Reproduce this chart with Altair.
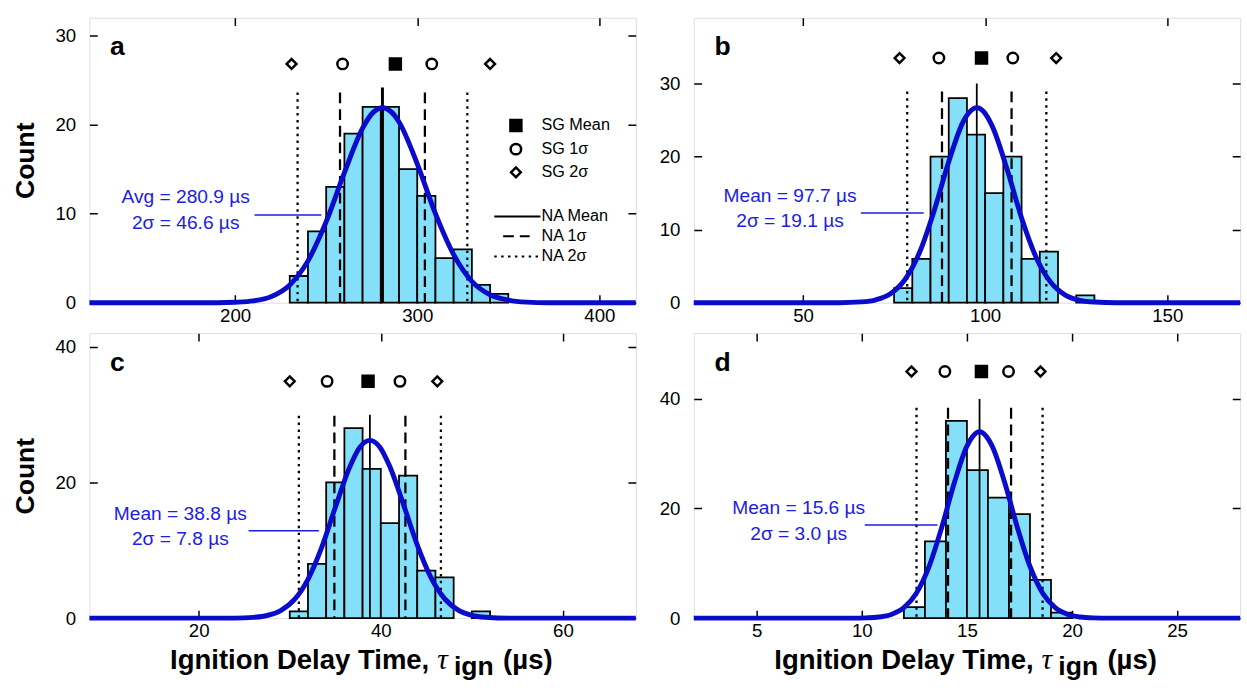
import altair as alt
import pandas as pd

FONT = "Liberation Sans, Arial, Helvetica, sans-serif"
SERIF = "Liberation Serif, Times New Roman, serif"
BAR_FILL = "#84e0f8"
CURVE = "#0b0bcc"
BLUE_TXT = "#1c1ce6"

sg_kinds = ["SG 2σ", "SG 1σ", "SG Mean", "SG 1σ", "SG 2σ"]
na_kinds = ["NA 2σ", "NA 1σ", "NA Mean", "NA 1σ", "NA 2σ"]
sg_legend_labels = ["SG Mean", "SG 1σ", "SG 2σ"]
na_legend_labels = ["NA Mean", "NA 1σ", "NA 2σ"]

# ---------------- panel a ----------------
a_bin_start = [230, 240, 250, 260, 270, 280, 290, 300, 310, 320, 330, 340]
a_counts = [3, 8, 13, 19, 22, 22, 15, 12, 5, 6, 2, 1]
a_bin_width = 10
a_curve_x = [120, 190, 200, 210, 220, 230, 240, 250, 260, 270, 275.9, 280.9, 285.9, 290, 300, 310, 320, 330, 340, 350, 360, 372, 420]
a_curve_y = [0, 0, 0.05, 0.2, 0.7, 2.0, 4.7, 9.1, 14.6, 19.6, 21.4, 21.9, 21.4, 20.3, 15.6, 10.0, 5.4, 2.4, 0.9, 0.3, 0.07, 0, 0]
a_sg_x = [231, 259, 288, 308, 340]
a_na_x = [234.3, 257.6, 280.9, 304.2, 327.5]
a_text = ["Avg = 280.9 µs", "2σ = 46.6 µs"]

# ---------------- panel b ----------------
b_bin_start = [75, 80, 85, 90, 95, 100, 105, 110, 115, 120, 125]
b_counts = [2, 6, 20, 28, 23, 15, 20, 6, 7, 0, 1]
b_bin_width = 5
b_curve_x = [20, 60, 66, 70, 74, 78, 82, 86, 90, 94, 95.9, 97.7, 99.5, 102, 106, 110, 114, 118, 122, 126, 130, 136, 170]
b_curve_y = [0, 0, 0.11, 0.4, 1.23, 3.18, 6.9, 12.6, 19.3, 24.8, 26.2, 26.7, 26.2, 24.1, 18.3, 11.6, 6.2, 2.8, 1.05, 0.33, 0.09, 0, 0]
b_sg_x = [76.5, 87.3, 99.0, 107.6, 119.5]
b_na_x = [78.6, 88.15, 97.7, 107.25, 116.8]
b_text = ["Mean = 97.7 µs", "2σ = 19.1 µs"]

# ---------------- panel c ----------------
c_bin_start = [30, 32, 34, 36, 38, 40, 42, 44, 46, 48, 50]
c_counts = [1, 8, 20, 28, 22, 14, 21, 7, 6, 0, 1]
c_bin_width = 2
c_curve_x = [8, 24, 26, 27.5, 29, 30.5, 32, 33.5, 35, 36.5, 37.7, 38.8, 39.9, 41, 42.5, 44, 45.5, 47, 48.5, 50, 51.5, 54, 68]
c_curve_y = [0, 0, 0.12, 0.39, 1.12, 2.72, 5.73, 10.4, 16.3, 22.0, 25.2, 26.2, 25.2, 22.3, 16.7, 10.8, 6.0, 2.87, 1.19, 0.42, 0.13, 0, 0]
c_sg_x = [30.0, 34.1, 38.6, 42.1, 46.2]
c_na_x = [31.0, 34.9, 38.8, 42.7, 46.6]
c_text = ["Mean = 38.8 µs", "2σ = 7.8 µs"]

# ---------------- panel d ----------------
d_bin_start = [12, 13, 14, 15, 16, 17, 18, 19]
d_counts = [2, 14, 36, 27, 22, 19, 7, 1]
d_bin_width = 1
d_curve_x = [2, 9.6, 10.2, 10.8, 11.4, 12.0, 12.6, 13.2, 13.8, 14.4, 15.0, 15.6, 16.2, 16.8, 17.4, 18.0, 18.6, 19.2, 19.8, 20.4, 21.0, 21.8, 28]
d_curve_y = [0, 0, 0.05, 0.2, 0.67, 1.91, 4.6, 9.45, 16.55, 24.7, 31.4, 34.0, 31.4, 24.7, 16.55, 9.45, 4.6, 1.91, 0.67, 0.2, 0.05, 0, 0]
d_sg_x = [12.36, 13.95, 15.69, 16.98, 18.50]
d_na_x = [12.6, 14.1, 15.6, 17.1, 18.6]
d_text = ["Mean = 15.6 µs", "2σ = 3.0 µs"]

HGT = 290

SHAPE_SCALE = alt.Scale(domain=sg_legend_labels, range=["square", "circle", "diamond"])
FILL_SCALE = alt.Scale(domain=sg_legend_labels, range=["black", "white", "white"])
SIZE_SCALE = alt.Scale(domain=sg_legend_labels, range=[125, 100, 175])
DASH_SCALE = alt.Scale(domain=na_legend_labels, range=[[1, 0], [11, 6], [2.5, 4.5]])
MARK_STYLE = dict(filled=False, color="black", strokeWidth=2.5, opacity=1, fillOpacity=1)


def one():
    return pd.DataFrame({"k": [0]})


def txt(s, x, y, size, color="black", weight="normal", style="normal", align="left",
        baseline="alphabetic", font=FONT):
    return alt.Chart(pd.DataFrame({"t": [s]})).mark_text(
        align=align, baseline=baseline, fontSize=size, fontWeight=weight,
        fontStyle=style, font=font, color=color
    ).encode(x=alt.value(x), y=alt.value(y), text="t:N")


def sg_channels():
    return dict(shape=alt.Shape("kind:N", scale=SHAPE_SCALE, legend=None),
                fill=alt.Fill("kind:N", scale=FILL_SCALE, legend=None),
                size=alt.Size("kind:O", scale=SIZE_SCALE, legend=None))


def key_line(kind, x1, x2, y):
    return alt.Chart(pd.DataFrame({"kind": [kind]})).mark_rule(color="black", strokeWidth=2).encode(
        x=alt.value(x1), x2=alt.value(x2), y=alt.value(y),
        strokeDash=alt.StrokeDash("kind:N", scale=DASH_SCALE, legend=None))


def key_symbol(kind, x, y):
    return alt.Chart(pd.DataFrame({"kind": [kind]})).mark_point(**MARK_STYLE).encode(
        x=alt.value(x), y=alt.value(y), **sg_channels())


def panel(p):
    W, H = p["w"], HGT
    xs = alt.Scale(domain=p["xdom"], nice=False, zero=False)
    ys = alt.Scale(domain=p["ydom"], nice=False, zero=False)
    xax = alt.Axis(values=p["xticks"], title=None, domain=False, ticks=False, tickSize=0,
                   labelFontSize=19, labelFont=FONT, labelColor="black", labelPadding=4,
                   labelFlush=False, format="d", grid=True, gridColor="black", gridWidth=1.5,
                   gridOpacity=1, gridDash=[8, H - 16, 8, 4000])
    yargs = dict(values=p["yticks"], domain=False, ticks=False, tickSize=0,
                 labelFontSize=19, labelFont=FONT, labelColor="black", labelPadding=14,
                 format="d", grid=True, gridColor="black", gridWidth=1.5, gridOpacity=1,
                 gridDash=[8, W - 16, 8, 4000])
    if p["count"]:
        yax = alt.Axis(title="Count", titleFontSize=27, titleFontWeight="bold", titleFont=FONT,
                       titleColor="black", titlePadding=16, **yargs)
    else:
        yax = alt.Axis(title=None, **yargs)
    X = lambda f: alt.X(f, scale=xs, axis=xax)
    Y = lambda f: alt.Y(f, scale=ys, axis=yax)

    bdf = pd.DataFrame({"start": p["bins"], "count": p["counts"]})
    bdf["end"] = bdf["start"] + p["bw"]
    bdf = bdf[bdf["count"] > 0]
    bars = alt.Chart(bdf).mark_rect(fill=BAR_FILL, stroke="black", strokeWidth=1.8).encode(
        x=X("start:Q"), x2="end:Q", y=Y("count:Q"), y2=alt.datum(0))

    ndf = pd.DataFrame({"x": p["na"], "kind": na_kinds})
    mean_rule = alt.Chart(ndf[ndf["kind"] == "NA Mean"]).mark_rule(
        color="black", strokeWidth=p["mw"]).encode(
        x=X("x:Q"), y=alt.value(p["mtop"]), y2=alt.value(H),
        strokeDash=alt.StrokeDash("kind:N", scale=DASH_SCALE, legend=None))
    sig_rule = alt.Chart(ndf[ndf["kind"] != "NA Mean"]).mark_rule(
        color="black", strokeWidth=2.3).encode(
        x=X("x:Q"), y=alt.value(p["stop"]), y2=alt.value(H),
        strokeDash=alt.StrokeDash("kind:N", scale=DASH_SCALE, legend=None))

    cdf = pd.DataFrame({"x": p["cx"], "y": p["cy"]})
    curve = alt.Chart(cdf).mark_line(color=CURVE, strokeWidth=5, interpolate="monotone").encode(
        x=X("x:Q"), y=Y("y:Q"))

    sdf = pd.DataFrame({"x": p["sg"], "kind": sg_kinds})
    pts = alt.Chart(sdf).mark_point(**MARK_STYLE).encode(
        x=X("x:Q"), y=alt.value(p["my"]), **sg_channels())

    layers = [bars, mean_rule, sig_rule, curve, pts,
              txt(p["letter"], 21, 38, 27, weight="bold"),
              txt(p["text"][0], p["tx"], p["ty"][0], 19.5, color=BLUE_TXT, align="center", baseline="middle"),
              txt(p["text"][1], p["tx"], p["ty"][1], 19.5, color=BLUE_TXT, align="center", baseline="middle"),
              alt.Chart(one()).mark_rule(color=BLUE_TXT, strokeWidth=1.5).encode(
                  x=alt.value(p["ptr"][0]), x2=alt.value(p["ptr"][1]), y=alt.value(p["ptr"][2]))]
    if p["legend"]:
        # key for the SG symbols and the NA lines
        sym_y = [109.7, 133.7, 157.3]
        line_y = [202.3, 222.3, 243]
        line_x = [(412, 459), (421, 448), (412, 457)]
        for lab, yy in zip(sg_legend_labels, sym_y):
            layers += [key_symbol(lab, 434, yy), txt(lab, 460, yy, 16.5, baseline="middle")]
        for lab, yy, (x1, x2) in zip(na_legend_labels, line_y, line_x):
            layers += [key_line(lab, x1, x2, yy), txt(lab, 460, yy, 16.5, baseline="middle")]
    if p["xtitle"]:
        layers += [txt("Ignition Delay Time,", 82, H + 52, 28, weight="bold"),
                   txt("τ", 354, H + 52, 30, style="italic", font=SERIF),
                   txt("ign", 371, H + 58, 27, weight="bold"),
                   txt("(µs)", 421, H + 52, 28, weight="bold")]
    return alt.layer(*layers).properties(width=W, height=H)


pa = panel(dict(w=556, xdom=[120, 420], ydom=[0, 32], xticks=[200, 300, 400], yticks=[0, 10, 20, 30],
                count=True, legend=True, letter="a", bins=a_bin_start, counts=a_counts, bw=a_bin_width,
                cx=a_curve_x, cy=a_curve_y, sg=a_sg_x, na=a_na_x, my=47, mtop=71, stop=76, mw=3,
                text=a_text, tx=98, ty=[183, 209], ptr=[168, 236, 200.7], xtitle=False))
pb = panel(dict(w=556, xdom=[20, 170], ydom=[0, 39], xticks=[50, 100, 150], yticks=[0, 10, 20, 30],
                count=False, legend=False, letter="b", bins=b_bin_start, counts=b_counts, bw=b_bin_width,
                cx=b_curve_x, cy=b_curve_y, sg=b_sg_x, na=b_na_x, my=41, mtop=67, stop=75, mw=1.8,
                text=b_text, tx=98, ty=[181, 207], ptr=[170, 234, 198.7], xtitle=False))
pc = panel(dict(w=556, xdom=[8, 68], ydom=[0, 42], xticks=[20, 40, 60], yticks=[0, 20, 40],
                count=True, legend=False, letter="c", bins=c_bin_start, counts=c_counts, bw=c_bin_width,
                cx=c_curve_x, cy=c_curve_y, sg=c_sg_x, na=c_na_x, my=49, mtop=83, stop=84, mw=1.8,
                text=c_text, tx=92.5, ty=[184, 209.7], ptr=[162, 233.5, 201], xtitle=True))
pd_ = panel(dict(w=556, xdom=[2, 28], ydom=[0, 52], xticks=[5, 10, 15, 20, 25], yticks=[0, 20, 40],
                 count=False, legend=False, letter="d", bins=d_bin_start, counts=d_counts, bw=d_bin_width,
                 cx=d_curve_x, cy=d_curve_y, sg=d_sg_x, na=d_na_x, my=39, mtop=67, stop=76, mw=1.8,
                 text=d_text, tx=106.8, ty=[178, 204], ptr=[174, 248, 195.3], xtitle=True))

RES = dict(shape="independent", fill="independent", size="independent", strokeDash="independent")
row1 = alt.hconcat(pa, pb, spacing=12).resolve_scale(**RES)
row2 = alt.hconcat(pc, pd_, spacing=12).resolve_scale(**RES)
chart = alt.vconcat(row1, row2, spacing=6).resolve_scale(**RES).properties(
    padding={"left": 11, "top": 11, "right": -4, "bottom": 0}
).configure_view(stroke="black", strokeWidth=2).configure(background="white")

chart.save("out.html", embed_options={"renderer": "svg", "actions": False})
